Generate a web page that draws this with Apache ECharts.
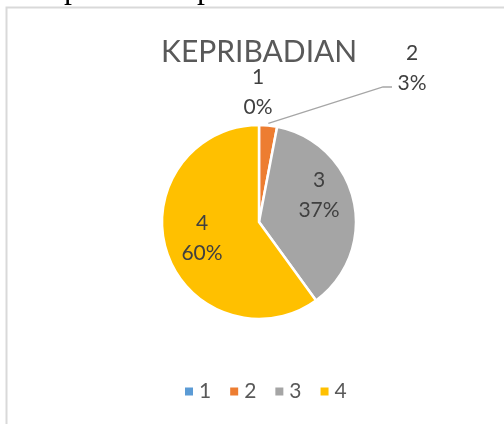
<!DOCTYPE html>
<html>
<head>
<meta charset="utf-8">
<script src="https://cdn.jsdelivr.net/npm/echarts@6/dist/echarts.min.js"></script>
<style>
  html, body { margin: 0; padding: 0; background: #fff; }
  #chart { width: 504px; height: 424px; }
</style>
</head>
<body>
<div id="chart"></div>
<script>
// kategori dan nilai (persen)
const categories = ['1', '2', '3', '4'];
const values = [0, 3, 37, 60];
const colors = ['#5B9BD5', '#ED7D31', '#A5A5A5', '#FFC000'];

// posisi label seperti di Excel
const labelPos = [[258, 92], [412, 68], [319, 195], [202, 238]];
const pieCenter = [259, 222];
const pieRadius = 97;

const chart = echarts.init(document.getElementById('chart'));

const total = values.reduce(function (a, b) { return a + b; }, 0);

const data = categories.map(function (c, i) {
  return {
    name: c,
    value: values[i],
    itemStyle: { color: colors[i] },
    label: { position: i < 2 ? 'outside' : 'inside' },
    labelLine: { show: i === 1 }
  };
});

chart.setOption({
  animation: false,
  title: {
    text: 'KEPRIBADIAN',
    left: 156,
    top: 32,
    textStyle: { fontFamily: 'Lato', fontSize: 30, fontWeight: 'normal', color: '#595959' }
  },
  legend: {
    data: categories,
    bottom: 17,
    left: 178,
    icon: 'rect',
    itemWidth: 10,
    itemHeight: 10,
    itemGap: 17,
    textStyle: { fontFamily: 'Lato', fontSize: 21, color: '#595959' }
  },
  graphic: [
    {
      type: 'rect',
      shape: { x: 6.5, y: 7.5, width: 600, height: 500 },
      style: { fill: 'none', stroke: '#d9d9d9', lineWidth: 2 },
      silent: true
    },
    {
      type: 'text',
      left: 64, top: -26,
      style: { text: 'p', fontFamily: 'Liberation Serif', fontSize: 32, fill: '#000' }
    },
    {
      type: 'text',
      left: 197, top: -26,
      style: { text: 'p', fontFamily: 'Liberation Serif', fontSize: 32, fill: '#000' }
    }
  ],
  series: [{
    type: 'pie',
    center: pieCenter,
    radius: pieRadius,
    startAngle: 90,
    clockwise: true,
    percentPrecision: 0,
    stillShowZeroSum: true,
    itemStyle: { borderColor: '#fff', borderWidth: 2.5 },
    label: {
      formatter: '{b}\n{d}%',
      fontFamily: 'Lato',
      fontSize: 21,
      lineHeight: 30,
      color: '#404040',
      align: 'center'
    },
    labelLine: {
      show: true,
      lineStyle: { color: '#A6A6A6', width: 1.3 }
    },
    labelLayout: function (p) {
      const i = p.dataIndex;
      const pos = labelPos[i];
      const out = { x: pos[0], y: pos[1], align: 'center', verticalAlign: 'middle' };
      if (i === 1) {
        // garis penunjuk dari tengah irisan ke bawah-kiri label
        let before = 0;
        for (let k = 0; k < i; k++) before += values[k];
        const mid = (90 - (before + values[i] / 2) / total * 360) * Math.PI / 180;
        const r = pieRadius + 2;
        const sx = pieCenter[0] + r * Math.cos(mid);
        const sy = pieCenter[1] - r * Math.sin(mid);
        out.labelLinePoints = [[sx, sy], [pos[0] - 29, pos[1] + 19], [pos[0] - 20, pos[1] + 19]];
      }
      return out;
    },
    emphasis: { disabled: true },
    data: data
  }]
});
</script>
</body>
</html>
